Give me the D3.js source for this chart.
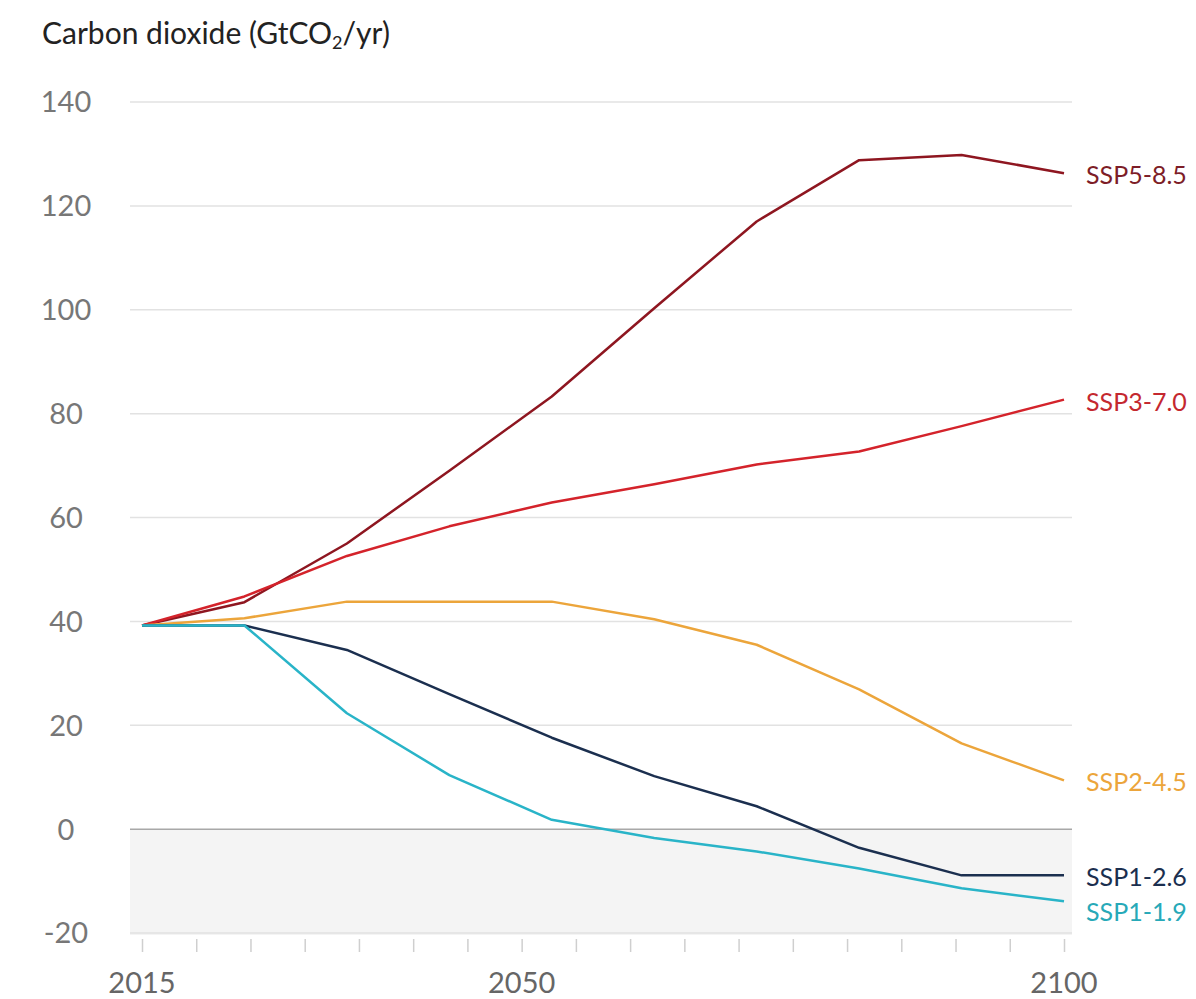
<!DOCTYPE html>
<html lang="en">
<head>
<meta charset="utf-8">
<title>Carbon dioxide emissions by SSP scenario</title>
<script src="https://d3js.org/d3.v7.min.js"></script>
<style>
  body { margin: 0; background: #fff; }
  text { font-family: Lato, "Open Sans", sans-serif; }
</style>
</head>
<body>
<div id="chart"></div>
<script>
// data points (plotted evenly spaced, as in the original)
var years = [2015, 2020, 2030, 2040, 2050, 2060, 2070, 2080, 2090, 2100];

var ssp585 = [39.2, 43.7, 55.0, 69.0, 83.3, 100.3, 117.0, 128.8, 129.8, 126.3];
var ssp370 = [39.2, 44.8, 52.6, 58.3, 62.9, 66.4, 70.2, 72.7, 77.6, 82.7];
var ssp245 = [39.2, 40.6, 43.8, 43.8, 43.8, 40.4, 35.5, 26.9, 16.5, 9.4];
var ssp126 = [39.2, 39.2, 34.5, 26.0, 17.6, 10.2, 4.4, -3.6, -8.9, -8.9];
var ssp119 = [39.2, 39.2, 22.3, 10.4, 1.8, -1.7, -4.3, -7.6, -11.4, -13.9];

var seriesNames = ["SSP5-8.5", "SSP3-7.0", "SSP2-4.5", "SSP1-2.6", "SSP1-1.9"];
var seriesValues = [ssp585, ssp370, ssp245, ssp126, ssp119];
var lineColors = ["#8e1620", "#d4232b", "#eca53b", "#1b2f4f", "#29b4c8"];
var labelColors = ["#7d1d27", "#c4282f", "#eca53b", "#1b2f4f", "#27a9b8"];

var yTicks = [-20, 0, 20, 40, 60, 80, 100, 120, 140];
var xTickLabels = [2015, 2050, 2100];

var W = 1196, H = 999;
var plotLeft = 142, plotRight = 1064, plotTop = 102, plotBottom = 933;

var svg = d3.select("#chart").append("svg")
    .attr("width", W)
    .attr("height", H);

// scales
var xAxisScale = d3.scaleLinear().domain([2015, 2100]).range([plotLeft, plotRight]);
var xPos = d3.scalePoint().domain(years).range([plotLeft, plotRight]);
var y = d3.scaleLinear().domain([-20, 140]).range([plotBottom, plotTop]);

// title
var title = svg.append("text")
    .attr("x", 42)
    .attr("y", 44)
    .attr("font-size", 30)
    .attr("fill", "#222");
title.append("tspan").text("Carbon dioxide (GtCO");
title.append("tspan").attr("font-size", 18).attr("dy", 5).text("2");
title.append("tspan").attr("dy", -5).text("/yr)");

// negative area
svg.append("rect")
    .attr("x", 130)
    .attr("y", y(0))
    .attr("width", 1072 - 130)
    .attr("height", y(-20) - y(0) + 2)
    .attr("fill", "#f4f4f4");

// gridlines
svg.append("g").selectAll("line")
  .data(yTicks)
  .enter().append("line")
    .attr("x1", 130)
    .attr("x2", 1072)
    .attr("y1", function(d) { return y(d); })
    .attr("y2", function(d) { return y(d); })
    .attr("stroke", function(d) { return d === 0 ? "#a8a8a8" : "#e2e2e2"; })
    .attr("stroke-width", 1.5);

// y labels
svg.append("g").selectAll("text")
  .data(yTicks)
  .enter().append("text")
    .attr("x", 66)
    .attr("y", function(d) { return y(d); })
    .attr("dy", "0.36em")
    .attr("text-anchor", "middle")
    .attr("font-size", 29)
    .attr("fill", "#777")
    .text(function(d) { return d; });

// x axis: small ticks every 5 years
var xAxis = d3.axisBottom(xAxisScale)
    .tickValues(d3.range(2015, 2101, 5))
    .tickSize(13)
    .tickFormat("");
var gx = svg.append("g")
    .attr("transform", "translate(0," + (plotBottom + 6) + ")")
    .call(xAxis);
gx.select(".domain").remove();
gx.selectAll(".tick line").attr("stroke", "#cfcfcf").attr("stroke-width", 1.5);

svg.append("g").selectAll("text")
  .data(xTickLabels)
  .enter().append("text")
    .attr("x", function(d) { return xAxisScale(d); })
    .attr("y", 993)
    .attr("text-anchor", "middle")
    .attr("font-size", 29)
    .attr("fill", "#666")
    .text(function(d) { return d; });

// lines
var line = d3.line()
    .x(function(d, i) { return xPos(years[i]); })
    .y(function(d) { return y(d); });

svg.append("g").selectAll("path")
  .data(seriesValues)
  .enter().append("path")
    .attr("d", function(d) { return line(d); })
    .attr("fill", "none")
    .attr("stroke", function(d, i) { return lineColors[i]; })
    .attr("stroke-width", 2.5)
    .attr("stroke-linejoin", "round");

// end labels, nudged apart if too close
var labelY = seriesValues.map(function(d) { return y(d[d.length - 1]) + 2; });
for (var i = 1; i < labelY.length; i++) {
  if (labelY[i] - labelY[i - 1] < 35) labelY[i] = labelY[i - 1] + 35;
}

svg.append("g").selectAll("text")
  .data(seriesNames)
  .enter().append("text")
    .attr("x", 1086)
    .attr("y", function(d, i) { return labelY[i]; })
    .attr("dy", "0.36em")
    .attr("font-size", 25)
    .attr("fill", function(d, i) { return labelColors[i]; })
    .text(function(d) { return d; });
</script>
</body>
</html>
